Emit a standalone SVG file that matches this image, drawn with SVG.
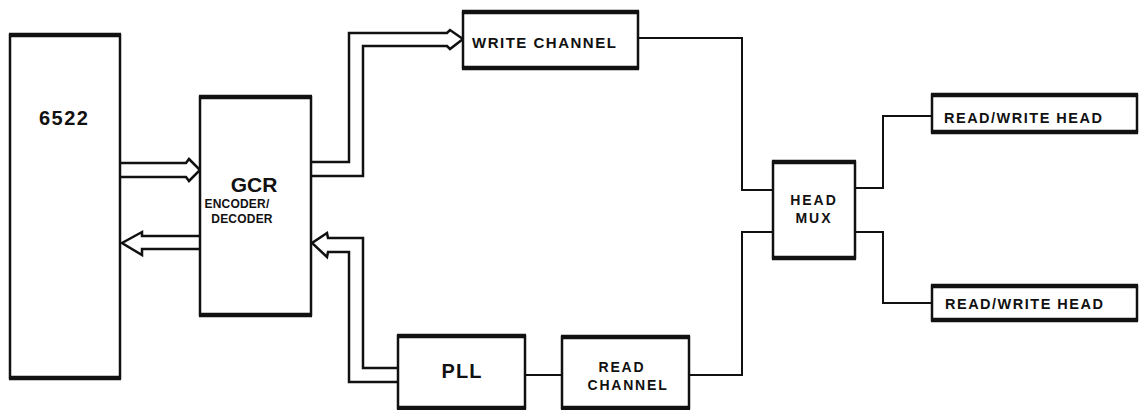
<svg xmlns="http://www.w3.org/2000/svg" width="1143" height="410" viewBox="0 0 1143 410">
<style>
.box{fill:#fff;stroke:#111;stroke-width:2.5}
.edge{stroke:#111;stroke-width:4.5;fill:none}
.ln{fill:none;stroke:#111;stroke-width:2;stroke-linejoin:miter}
.bus{fill:none;stroke:#111;stroke-width:2.5;stroke-linejoin:miter}
text{font-family:"Liberation Sans",Arial,sans-serif;font-weight:bold;fill:#111}
</style>
<rect width="1143" height="410" fill="#fff"/>
<g id="connectors">
  <path class="bus" d="M121,163 H186 L189,159 L200,170 L189,181 L186,177 H121"/>
  <path class="bus" d="M200,236 H142 L142,232 L122,243 L142,255 L142,249 H200"/>
  <path class="bus" d="M312,162 H349 V33 H447 L450,30 L463,39 L450,49 L447,46 H363 V176 H312"/>
  <path class="bus" d="M398,368 H363 V238 H328 L327,233 L312,243 L327,257 L328,252 H349 V382 H398"/>
  <path class="ln" d="M638,38 H742 V190 H773"/>
  <path class="ln" d="M773,232 H742 V375 H689"/>
  <path class="ln" d="M525,375 H562"/>
  <path class="ln" d="M855,188 H883 V116 H932"/>
  <path class="ln" d="M855,232 H883 V303 H932"/>
</g>
<g id="n6522">
  <rect class="box" x="10" y="35" width="110" height="343"/>
  <path class="edge" d="M9,35 H121 M9,378 H121"/>
  <text x="39" y="125" font-size="20" letter-spacing="1.5">6522</text>
</g>
<g id="gcr">
  <rect class="box" x="200" y="97" width="111" height="218"/>
  <path class="edge" d="M199,97 H312 M199,315 H312"/>
  <text x="254" y="192" font-size="21" text-anchor="middle">GCR</text>
  <text x="237" y="208" font-size="12" text-anchor="middle" letter-spacing="0.2">ENCODER/</text>
  <text x="242" y="223" font-size="12" text-anchor="middle" letter-spacing="0.2">DECODER</text>
</g>
<g id="write-channel">
  <rect class="box" x="463" y="12" width="175" height="56"/>
  <path class="edge" d="M462,12 H639 M462,68 H639"/>
  <text x="472" y="48" font-size="15" letter-spacing="1.5">WRITE CHANNEL</text>
</g>
<g id="head-mux">
  <rect class="box" x="773" y="162" width="82" height="96"/>
  <path class="edge" d="M772,162 H856 M772,258 H856"/>
  <text x="814" y="205" font-size="14" text-anchor="middle" letter-spacing="2">HEAD</text>
  <text x="814" y="223" font-size="14" text-anchor="middle" letter-spacing="2">MUX</text>
</g>
<g id="rw-head-1">
  <rect class="box" x="932" y="95" width="205" height="37"/>
  <path class="edge" d="M931,95 H1138 M931,132 H1138"/>
  <text x="944" y="123" font-size="14.5" letter-spacing="1.5">READ/WRITE HEAD</text>
</g>
<g id="rw-head-2">
  <rect class="box" x="932" y="286" width="205" height="34"/>
  <path class="edge" d="M931,286 H1138 M931,320 H1138"/>
  <text x="945" y="309" font-size="14.5" letter-spacing="1.5">READ/WRITE HEAD</text>
</g>
<g id="pll">
  <rect class="box" x="398" y="336" width="127" height="72"/>
  <path class="edge" d="M397,336 H526 M397,408 H526"/>
  <text x="462" y="378" font-size="20" text-anchor="middle" letter-spacing="1">PLL</text>
</g>
<g id="read-channel">
  <rect class="box" x="562" y="337" width="127" height="71"/>
  <path class="edge" d="M561,337 H690 M561,408 H690"/>
  <text x="622" y="372" font-size="14" text-anchor="middle" letter-spacing="1.8">READ</text>
  <text x="628" y="390" font-size="14" text-anchor="middle" letter-spacing="1.8">CHANNEL</text>
</g>
</svg>
